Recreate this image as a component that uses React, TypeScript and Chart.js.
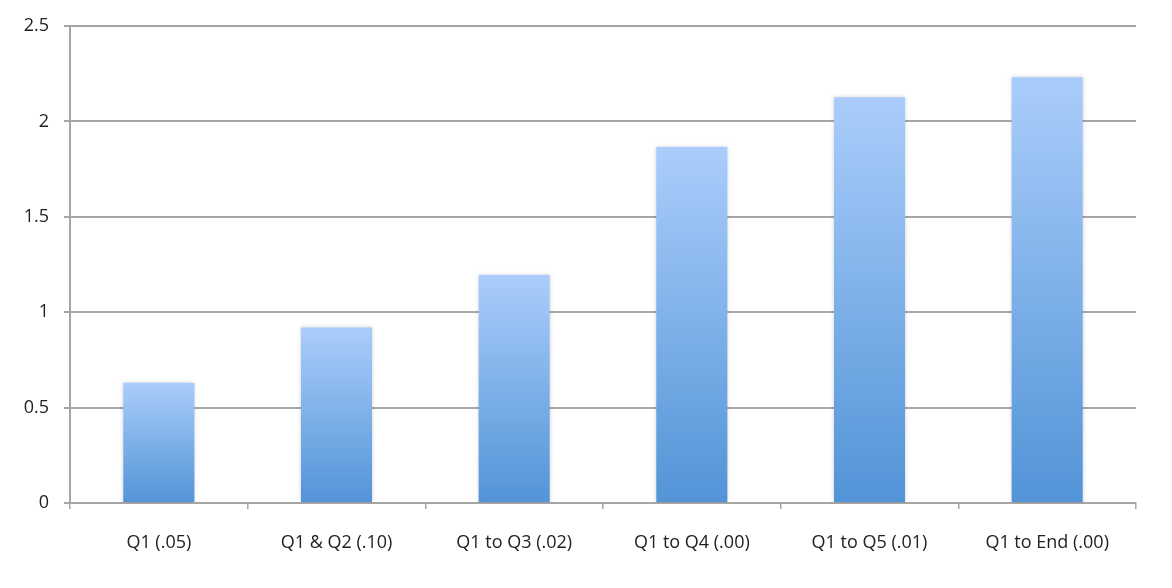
import React, { useEffect, useRef } from "react";
import { Chart, registerables } from "chart.js";

Chart.register(...registerables);

const categories = [
  "Q1 (.05)",
  "Q1 & Q2 (.10)",
  "Q1 to Q3 (.02)",
  "Q1 to Q4 (.00)",
  "Q1 to Q5 (.01)",
  "Q1 to End (.00)",
];
const values = [0.63, 0.92, 1.195, 1.866, 2.126, 2.231];
const yMin = 0;
const yMax = 2.5;
const yStep = 0.5;

const FONT = "'Open Sans', sans-serif";

const shadowPlugin = {
  id: "barShadow",
  beforeDatasetsDraw(chart: any) {
    const ctx = chart.ctx;
    ctx.save();
    ctx.shadowColor = "rgba(0,0,0,0.18)";
    ctx.shadowBlur = 4;
    ctx.shadowOffsetX = 0;
    ctx.shadowOffsetY = 0;
  },
  afterDatasetsDraw(chart: any) {
    chart.ctx.restore();
  },
};

export default function App() {
  const ref = useRef<HTMLCanvasElement | null>(null);

  useEffect(() => {
    if (!ref.current) return;
    const chart = new Chart(ref.current, {
      type: "bar",
      data: {
        labels: categories,
        datasets: [
          {
            data: values,
            backgroundColor: (c: any) => {
              const ch = c.chart;
              const ys = ch.scales && ch.scales.y;
              if (!ch.chartArea || !ys || c.raw == null) return "#7FB0EA";
              const top = ys.getPixelForValue(c.raw as number);
              const bottom = ys.getPixelForValue(0);
              const g = ch.ctx.createLinearGradient(0, top, 0, bottom);
              g.addColorStop(0, "#AACDFB");
              g.addColorStop(1, "#5294D7");
              return g;
            },
            borderWidth: 0,
            barPercentage: 0.4,
            categoryPercentage: 1,
          },
        ],
      },
      options: {
        animation: false,
        responsive: false,
        maintainAspectRatio: false,
        layout: { padding: { left: 0, right: 36, top: 26, bottom: 0 } },
        plugins: {
          legend: { display: false },
          tooltip: { enabled: false },
        },
        scales: {
          x: {
            grid: {
              offset: true,
              drawOnChartArea: false,
              drawTicks: true,
              tickLength: 6,
              color: "#A6A6A6",
              lineWidth: 1.5,
            },
            border: { color: "#A6A6A6", width: 2 },
            ticks: {
              color: "#222",
              font: { family: FONT, size: 18 },
              padding: 23,
              maxRotation: 0,
              autoSkip: false,
            },
            afterFit: (s: any) => {
              s.height = 85;
            },
          },
          y: {
            min: yMin,
            max: yMax,
            ticks: {
              stepSize: yStep,
              color: "#222",
              font: { family: FONT, size: 18 },
              padding: 15,
              callback: (v: any) => String(Number(v)),
            },
            grid: {
              color: "#A6A6A6",
              lineWidth: 2,
              tickLength: 6,
              drawTicks: true,
            },
            border: { color: "#A6A6A6", width: 2 },
            afterFit: (s: any) => {
              s.width = 70;
            },
          },
        },
      },
      plugins: [shadowPlugin],
    });
    return () => chart.destroy();
  }, []);

  return (
    <div style={{ position: "fixed", left: 0, top: 0, width: 1172, height: 588, background: "#fff" }}>
      <canvas ref={ref} width={1172} height={588} style={{ width: 1172, height: 588 }} />
    </div>
  );
}
